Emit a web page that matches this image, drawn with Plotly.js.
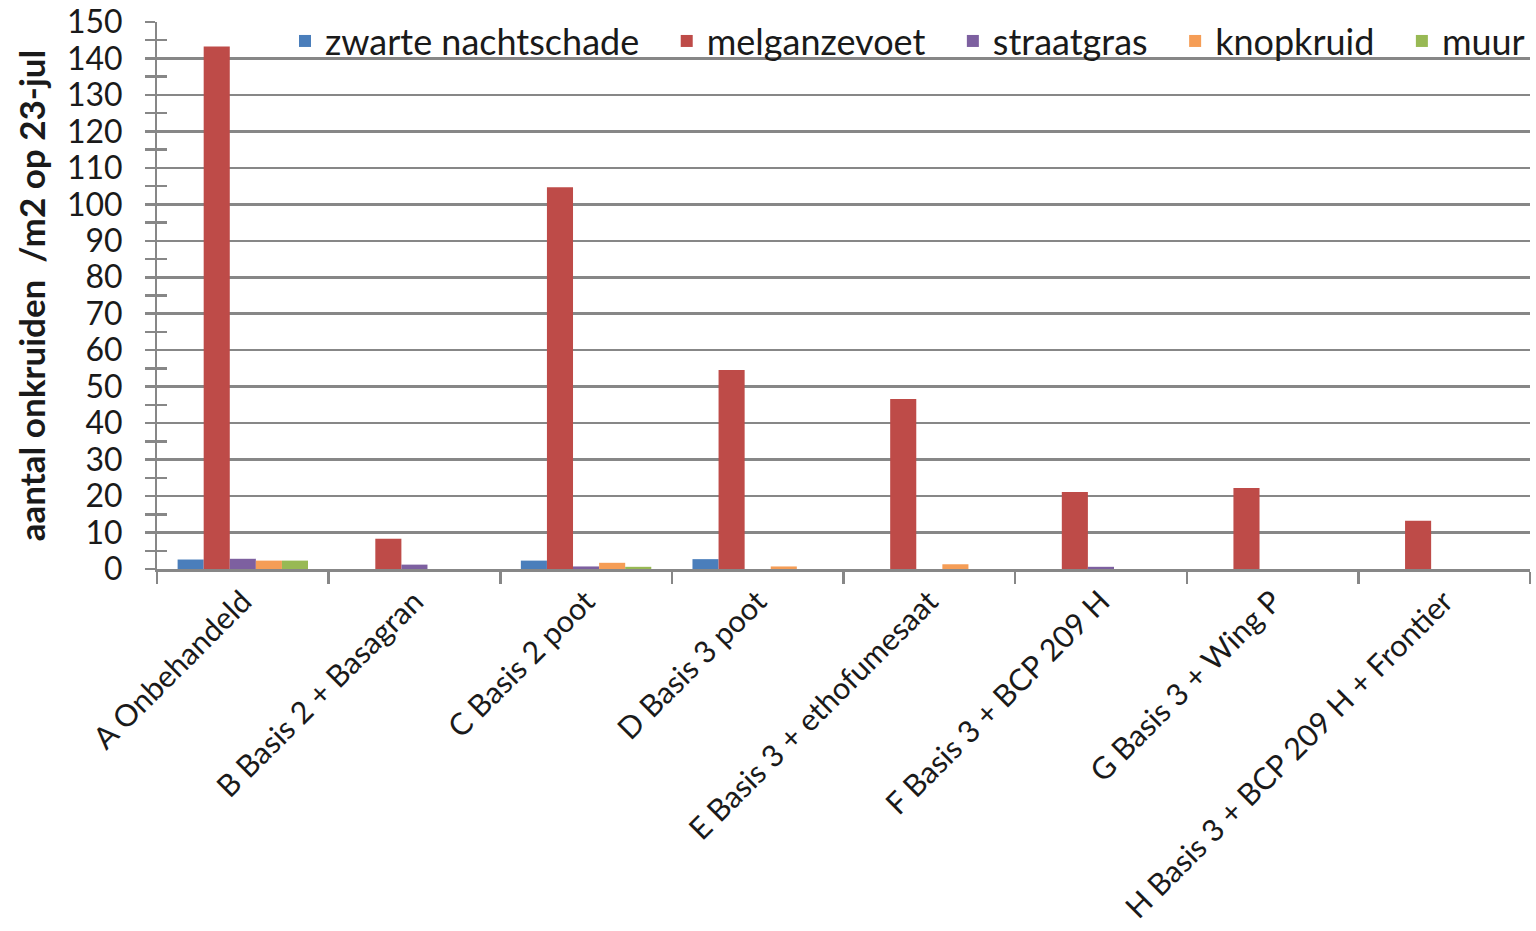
<!DOCTYPE html>
<html>
<head>
<meta charset="utf-8">
<script src="https://cdn.plot.ly/plotly-3.0.1.min.js"></script>
<style>
html,body{margin:0;padding:0;background:#fff;}
#chart{width:1536px;height:931px;}
</style>
</head>
<body>
<div id="chart"></div>
<script>
const categories = ["A Onbehandeld", "B Basis 2 + Basagran", "C Basis 2 poot", "D Basis 3 poot",
  "E Basis 3 + ethofumesaat", "F Basis 3 + BCP 209 H", "G Basis 3 + Wing P", "H Basis 3 + BCP 209 H + Frontier"];
const seriesNames = ["zwarte nachtschade", "melganzevoet", "straatgras", "knopkruid", "muur"];
const zwarteNachtschade = [2.6, 0, 2.3, 2.7, 0, 0, 0, 0];
const melganzevoet = [143.3, 8.3, 104.7, 54.6, 46.6, 21.1, 22.2, 13.2];
const straatgras = [2.8, 1.2, 0.7, 0, 0, 0.6, 0, 0];
const knopkruid = [2.3, 0, 1.7, 0.7, 1.3, 0, 0, 0];
const muur = [2.3, 0, 0.6, 0, 0, 0, 0, 0];
const yTicks = [0, 10, 20, 30, 40, 50, 60, 70, 80, 90, 100, 110, 120, 130, 140, 150];

const colors = ["#4a7ebb", "#be4b48", "#7d60a0", "#f59d56", "#98b954"];
const values = [zwarteNachtschade, melganzevoet, straatgras, knopkruid, muur];
const legendPad = "\u2002\u2009";

const traces = seriesNames.map((n, i) => ({
  type: "bar", name: i < seriesNames.length - 1 ? n + legendPad : n, x: categories, y: values[i],
  marker: {color: colors[i]}
}));
// invisible helper traces so the overlay axes (labels / inner ticks) are drawn
["y2", "y3"].forEach(ax => traces.push({
  type: "scatter", mode: "markers", x: categories, y: melganzevoet, yaxis: ax,
  marker: {opacity: 0, size: 1}, showlegend: false, hoverinfo: "skip"
}));

const axisGray = "#878787";
const layout = {
  width: 1536, height: 931,
  margin: {l: 157, r: 6, t: 22, b: 362},
  paper_bgcolor: "#fff", plot_bgcolor: "#fff",
  font: {family: "Lato, 'Open Sans', sans-serif", color: "#1a1a1a", size: 32},
  barmode: "group", bargap: 0.24, bargroupgap: 0,
  showlegend: true,
  legend: {orientation: "h", x: 1.0, xanchor: "right", y: 1.02, yanchor: "top",
    font: {size: 36, color: "#1a1a1a"}, bgcolor: "rgba(255,255,255,0)", itemwidth: 30, tracegroupgap: 0},
  xaxis: {
    type: "category", tickangle: -45, tickson: "boundaries", ticks: "outside", ticklen: 12,
    tickwidth: 2.5, tickcolor: axisGray, showline: true, linecolor: axisGray, linewidth: 2.5,
    tickfont: {size: 30.5, color: "#1a1a1a"}, showgrid: false, automargin: false
  },
  yaxis: {
    range: [0, 150], tickvals: yTicks, showticklabels: false,
    ticks: "outside", ticklen: 10, tickwidth: 2.5, tickcolor: axisGray,
    showline: true, linecolor: axisGray, linewidth: 2.5,
    showgrid: true, gridcolor: axisGray, gridwidth: 2.5, zeroline: false,
    minor: {dtick: 5, tick0: 0, ticks: "outside", ticklen: 10, tickwidth: 2.5, tickcolor: axisGray, showgrid: false},
    automargin: false
  },
  yaxis2: {
    overlaying: "y", anchor: "x", side: "left", range: [0, 150],
    tickvals: yTicks, ticktext: yTicks.map(String),
    ticks: "outside", ticklen: 27, tickwidth: 1, tickcolor: "rgba(0,0,0,0)",
    tickfont: {size: 32, color: "#1a1a1a"},
    title: {text: "<b>aantal onkruiden  /m2 op 23-jul</b>", font: {size: 35, color: "#1a1a1a"}, standoff: 10},
    showgrid: false, showline: false, zeroline: false, automargin: false
  },
  yaxis3: {
    overlaying: "y", anchor: "x", side: "left", range: [0, 150], tickvals: yTicks,
    showticklabels: false, ticks: "inside", ticklen: 10, tickwidth: 2.5, tickcolor: axisGray,
    minor: {dtick: 5, tick0: 0, ticks: "inside", ticklen: 10, tickwidth: 2.5, tickcolor: axisGray, showgrid: false},
    showgrid: false, showline: false, zeroline: false, automargin: false
  }
};

Plotly.newPlot("chart", traces, layout, {displayModeBar: false, staticPlot: true});
</script>
</body>
</html>
